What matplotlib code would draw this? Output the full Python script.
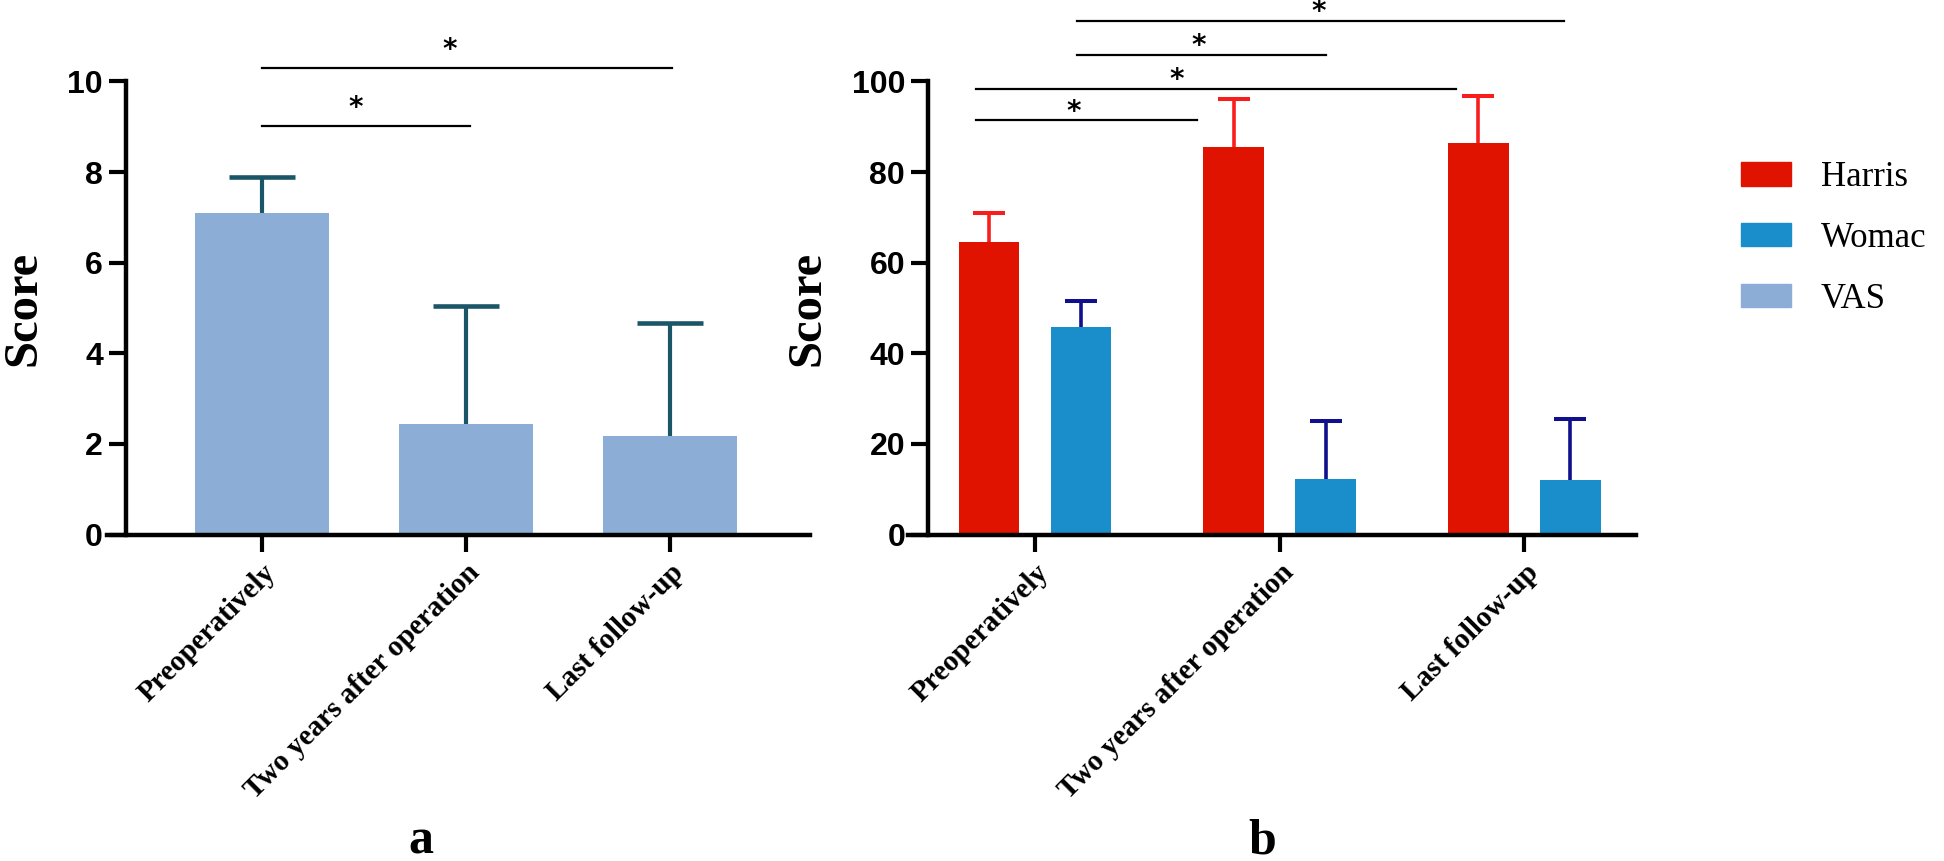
import numpy as np
import matplotlib.pyplot as plt
from matplotlib.patches import Patch

# categories and values
periods = ["Preoperatively", "Two years after operation", "Last follow-up"]

vas_mean = [7.09, 2.44, 2.17]
vas_sd = [0.79, 2.60, 2.50]

harris_mean = [64.6, 85.6, 86.5]
harris_sd = [6.3, 10.6, 10.3]
womac_mean = [45.9, 12.3, 12.1]
womac_sd = [5.7, 12.7, 13.3]

# significance brackets (x start, x end, height, star x)
vas_sig = [(0.0, 1.02, 9.02, 0.46), (0.0, 2.01, 10.3, 0.92)]
score_sig = [(-0.24, 0.66, 91.4, 0.16), (-0.24, 1.72, 98.4, 0.58),
             (0.17, 1.19, 105.9, 0.67), (0.17, 2.16, 113.4, 1.16)]

vas_c = "#8cadd5"
vas_err = "#1b5668"
harris_c = "#e01300"
harris_err = "#f81e1e"
womac_c = "#1a8dcb"
womac_err = "#10108c"

SERIF = "Liberation Serif"
SANS = "Liberation Sans"

W, H = 1944, 861
fig = plt.figure(figsize=(W/100, H/100), dpi=100)


def style(ax, yaxis_x, xlim, ylim, yticks):
    ax.set_xlim(*xlim)
    ax.set_ylim(*ylim)
    for s in ["top", "right"]:
        ax.spines[s].set_visible(False)
    ax.spines["left"].set_position(("data", yaxis_x))
    for s in ["left", "bottom"]:
        ax.spines[s].set_linewidth(3.2)
    ax.set_yticks(yticks)
    ax.set_xticks(np.arange(len(periods)))
    ax.set_xticklabels(periods, rotation=45, ha="right", rotation_mode="anchor",
                       fontsize=21, family=SERIF, fontweight="bold")
    ax.tick_params(axis="both", direction="out", length=12.5, width=3)
    ax.tick_params(axis="y", pad=4)
    ax.tick_params(axis="x", pad=5)
    for t in ax.get_yticklabels():
        t.set_fontsize(23)
        t.set_fontweight("bold")
        t.set_family(SANS)
    ax.set_ylabel("Score", fontsize=35, family=SERIF, fontweight="bold", labelpad=16)


def upper_err(ax, xs, ys, sd, color, lw, cap):
    eb = ax.errorbar(xs, ys, yerr=[np.zeros(len(ys)), sd], fmt="none", ecolor=color,
                     elinewidth=lw, capsize=cap, capthick=lw + 0.3, zorder=1)
    eb.lines[1][0].set_visible(False)  # no cap at the bar top


def brackets(ax, sig, lift):
    for x0, x1, y, sx in sig:
        ax.plot([x0, x1], [y, y], color="black", lw=1.6, clip_on=False)
        ax.annotate("*", xy=(sx, y), xytext=(0, lift), textcoords="offset points",
                    ha="center", va="center", fontsize=20, fontweight="bold",
                    annotation_clip=False)


# panel a
ax1 = fig.add_axes([107/W, 1 - 534.5/H, 703/W, 453.1/H])
x = np.arange(len(periods))
ax1.bar(x, vas_mean, width=0.66, color=vas_c, zorder=2)
upper_err(ax1, x, vas_mean, vas_sd, vas_err, 3, 23.5)
style(ax1, -0.667, (-0.76, 2.686), (0, 10), np.arange(0, 11, 2))
brackets(ax1, vas_sig, 13)

# panel b
ax2 = fig.add_axes([908/W, 1 - 534.5/H, 728/W, 453.1/H])
off = 0.188
bw = 0.249
ax2.bar(x - off, harris_mean, width=bw, color=harris_c, zorder=2)
ax2.bar(x + off, womac_mean, width=bw, color=womac_c, zorder=2)
upper_err(ax2, x - off, harris_mean, harris_sd, harris_err, 2.6, 11.5)
upper_err(ax2, x + off, womac_mean, womac_sd, womac_err, 2.6, 11.5)
style(ax2, -0.437, (-0.519, 2.456), (0, 100), np.arange(0, 101, 20))
brackets(ax2, score_sig, 6)

# legend
handles = [Patch(color=harris_c, label="Harris"),
           Patch(color=womac_c, label="Womac"),
           Patch(color=vas_c, label="VAS")]
fig.legend(handles=handles, loc="upper left", bbox_to_anchor=(1740.7/W, 1 - 161/H),
           frameon=False, prop={"family": SERIF, "size": 25},
           handlelength=1.44, handleheight=0.66, handletextpad=0.86,
           labelspacing=0.8, borderpad=0, borderaxespad=0)

fig.text(421/W, 1 - 853/H, "a", ha="center", va="baseline", fontsize=36,
         family=SERIF, fontweight="bold")
fig.text(1262/W, 1 - 853/H, "b", ha="center", va="baseline", fontsize=36,
         family=SERIF, fontweight="bold")

fig.savefig("out.png", dpi=100)
